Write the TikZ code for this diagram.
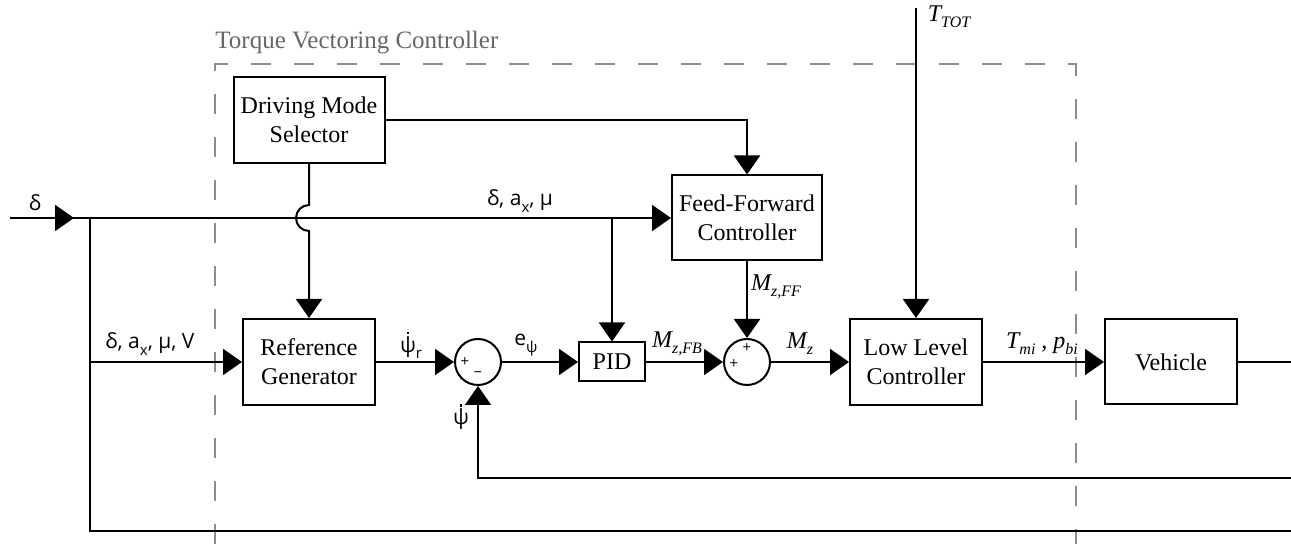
\documentclass[tikz,border=0pt]{standalone}
\usepackage{fontspec}
\setmainfont{Liberation Serif}
\newfontfamily\sigfont{Open Sans}
\usetikzlibrary{arrows.meta}

\newcommand\itsub[1]{\raisebox{-0.55ex}{\fontsize{8}{9}\selectfont\itshape #1}}
\newcommand\upsub[1]{\raisebox{-0.55ex}{\fontsize{7.5}{9}\selectfont #1}}
\newcommand\psidot{{\setbox0\hbox{ψ}\rlap{\hbox to\wd0{\hss\raisebox{0.86em}{\rule{1.3pt}{1.3pt}}\hss}}\box0}}

\tikzset{
  blk/.style={draw, line width=1pt, align=center, inner sep=0pt, font=\fontsize{12}{14.5}\selectfont},
  sumnode/.style={draw, circle, line width=1pt, minimum size=23pt, inner sep=0pt},
  sig/.style={inner sep=0pt, font=\sigfont\fontsize{10.5}{12}\selectfont},
  msig/.style={inner sep=0pt, font=\fontsize{12}{14}\selectfont\itshape},
  sgn/.style={inner sep=0pt, font=\sigfont\fontsize{7.5}{8}\selectfont},
  wire/.style={line width=1pt},
  arr/.style={wire, -{Triangle[length=9.5pt,width=13pt]}},
}

\begin{document}
\begin{tikzpicture}[x=0.5pt, y=-0.5pt]
\useasboundingbox (0,0) rectangle (1291,544);

% controller frame
\draw[black!45, line width=1pt, dash pattern=on 10pt off 11.5pt] (215,544) -- (215,64) -- (1076,64) -- (1076,544);
\node[anchor=base west, inner sep=0pt, text=black!60, font=\fontsize{12.5}{14}\selectfont] (tvclab) at (215,49) {Torque Vectoring Controller};

% blocks
\node[blk, minimum width=75.5pt, minimum height=43pt] (dms) at (309,120) {Driving Mode\\Selector};
\node[blk, minimum width=75pt, minimum height=42.5pt] (ffc) at (747,218) {Feed-Forward\\Controller};
\node[blk, minimum width=66pt, minimum height=43pt] (refgen) at (309,362) {Reference\\Generator};
\node[sumnode] (sum1) at (478,362) {};
\node[blk, minimum width=33pt, minimum height=19.5pt] (pid) at (612,362) {PID};
\node[sumnode] (sum2) at (747,362) {};
\node[blk, minimum width=66pt, minimum height=43pt] (llc) at (916,362) {Low Level\\Controller};
\node[blk, minimum width=66pt, minimum height=42.5pt] (veh) at (1171,362) {Vehicle};

% signs
\node[sgn] (s1p) at ([xshift=-6.5pt]sum1.center) {+};
\node[sgn] (s1m) at ([yshift=-6.5pt]sum1.center) {\textminus};
\node[sgn] (s2p) at ([yshift=7pt]sum2.center) {+};
\node[sgn] (s2l) at ([xshift=-6.5pt,yshift=-1pt]sum2.center) {+};

% points
\coordinate (in) at (10,218);
\coordinate (inTip) at (74,218);
\coordinate (split1) at (90,218);
\coordinate (split2) at (612,218);
\coordinate (hop) at (309,218);
\coordinate (ttot) at (916,8);
\coordinate (out) at (1291,362);
\coordinate (fb) at (1291,478);
\coordinate (bot) at (1291,531);

% connectors
\draw[wire] (in) -- (split1);
\draw[arr] (in) -- (inTip);
\draw[arr] (split1) -- (ffc.west);
\draw[arr] (split1) |- (refgen.west);
\draw[wire] (split1) |- (bot);
\draw[arr] (split2) -- (pid.north);
\draw[arr] (dms.east) -| (ffc.north);
\draw[arr] (dms.south) -- ([yshift=6.5pt]hop) arc[start angle=90, end angle=270, radius=6.5pt] -- (refgen.north);
\draw[arr] (refgen.east) -- (sum1.west);
\draw[arr] (sum1.east) -- (pid.west);
\draw[arr] (pid.east) -- (sum2.west);
\draw[arr] (ffc.south) -- (sum2.north);
\draw[arr] (sum2.east) -- (llc.west);
\draw[arr] (ttot) -- (llc.north);
\draw[arr] (llc.east) -- (veh.west);
\draw[wire] (veh.east) -- (out);
\draw[arr] (fb) -| (sum1.south);

% signal labels
\node[sig] (dlab) at (35,203) {δ};
\node[sig] (reflab) at (150,344) {δ, a\upsub{x}, μ, V};
\node[sig] (fflab) at (520,201) {δ, a\upsub{x}, μ};
\node[sig] (psirlab) at (411,345) {\psidot\upsub{r}};
\node[sig] (elab) at (526,345) {e\upsub{ψ}};
\node[msig] (mfblab) at (677,344) {M\itsub{z,FB}};
\node[msig] (mfflab) at (776,287) {M\itsub{z,FF}};
\node[msig] (mzlab) at (800,344) {M\itsub{z}};
\node[msig] (tplab) at (1042,344) {T\itsub{mi} , p\itsub{bi}};
\node[msig] (ttotlab) at (949,17) {T\itsub{TOT}};
\node[sig] (psilab) at (461,417) {\psidot};
\end{tikzpicture}
\end{document}
